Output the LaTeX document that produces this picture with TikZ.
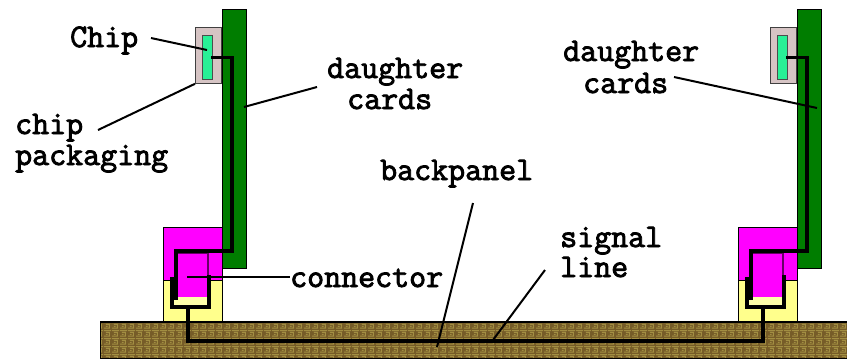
\documentclass[tikz,border=0pt]{standalone}
\usepackage{fontspec}
\newfontfamily\labfont[AutoFakeBold=2.6]{Latin Modern Mono}
\usetikzlibrary{patterns}

\definecolor{cardgreen}{RGB}{0,125,0}
\definecolor{chipgreen}{RGB}{40,240,150}
\definecolor{pkggray}{RGB}{214,196,196}
\definecolor{plugmag}{RGB}{255,0,255}
\definecolor{sockyel}{RGB}{255,255,140}
\definecolor{tipyel}{RGB}{255,255,170}
\definecolor{panelbrown}{RGB}{118,92,40}
\definecolor{panelolive}{RGB}{162,142,66}

% small meander texture for the backpanel board
\pgfdeclarepatternformonly{meander}{\pgfqpoint{0pt}{0pt}}{\pgfqpoint{8pt}{8pt}}{\pgfqpoint{8pt}{8pt}}{%
  \pgfsetlinewidth{1.1pt}%
  \pgfpathmoveto{\pgfqpoint{0pt}{1pt}}\pgfpathlineto{\pgfqpoint{6pt}{1pt}}%
  \pgfpathlineto{\pgfqpoint{6pt}{5pt}}\pgfpathlineto{\pgfqpoint{2pt}{5pt}}%
  \pgfpathmoveto{\pgfqpoint{0pt}{7pt}}\pgfpathlineto{\pgfqpoint{8pt}{7pt}}%
  \pgfpathmoveto{\pgfqpoint{2pt}{3pt}}\pgfpathlineto{\pgfqpoint{4pt}{3pt}}%
  \pgfusepath{stroke}}

\tikzset{
  box/.style={draw=black, line width=0.8pt, inner sep=0pt, anchor=north west},
  trace/.style={draw=black, line width=3.2pt, line cap=rect},
  leader/.style={draw=black, line width=2pt},
  lab/.style={font=\labfont\bfseries\fontsize{33}{33}\selectfont, inner sep=0pt, anchor=base west}
}

\begin{document}
\begin{tikzpicture}[x=1pt,y=-1pt]
\useasboundingbox (0,0) rectangle (847,360);
\fill[white] (0,0) rectangle (847,360);

% backpanel board
\node[box, fill=panelbrown, minimum width=747pt, minimum height=36pt] (panel) at (100,322) {};
\fill[pattern=meander, pattern color=panelolive] (101,323) rectangle (847,357.5);
\draw[black, line width=1.2pt] (100,322) -- (847,322);

% two daughter cards with chip, plug and socket
\foreach \p/\s in {163/L,738/R}{
  \node[box, fill=plugmag, minimum width=59pt, minimum height=53pt] (plug\s) at ({\p},227) {};
  \node[box, fill=sockyel, minimum width=59pt, minimum height=41pt] (sock\s) at ({\p},280) {};
  \node[box, fill=cardgreen, minimum width=24pt, minimum height=259pt] (card\s) at ({\p+59},9) {};
  \node[box, draw=black!75, fill=pkggray, minimum width=26pt, minimum height=56pt] (pkg\s) at ({\p+32},27) {};
  \node[box, draw=black!70, fill=chipgreen, minimum width=10pt, minimum height=44pt] (chip\s) at ({\p+39},35) {};
  \node[box, fill=plugmag, draw=black!60!plugmag, line width=1.5pt, minimum width=31pt, minimum height=45pt] (pin\s) at ({\p+13},252) {};
  \node[box, fill=tipyel, draw=none, minimum width=34pt, minimum height=8pt] (tip\s) at ({\p+11},297) {};
  % socket contact
  \coordinate (ul\s) at ({\p+9},279);
  \coordinate (ur\s) at ({\p+46},277);
  \coordinate (ub\s) at ({\p+25},307);
  \draw[trace] (ul\s) |- (ur\s |- ub\s) -- (ur\s);
  % chip to plug trace
  \draw[trace] (chip\s.east) -| ({\p+69},251) -| (pin\s.south west);
}

% signal line through the backpanel
\draw[trace] (ubL) -- ++(0,34) -| (ubR);

% labels
\node[lab] (tChip) at (70,47) {Chip};
\node[lab] (tPkg1) at (15,134) {chip};
\node[lab] (tPkg2) at (15,165) {packaging};
\node[lab] (tDcL1) at (327,78) {daughter};
\node[lab] (tDcL2) at (347,109) {cards};
\node[lab] (tDcR1) at (563,61) {daughter};
\node[lab] (tDcR2) at (583,93) {cards};
\node[lab] (tBack) at (380,180) {backpanel};
\node[lab] (tConn) at (290,287) {connector};
\node[lab] (tSig1) at (560,247) {signal};
\node[lab] (tSig2) at (560,277) {line};

% leader lines
\coordinate (aChip) at (151,38);
\coordinate (aPkg) at (98,130);
\coordinate (aDcL) at (317,87);
\coordinate (aDcR) at (674,77);
\coordinate (aBack) at (473,203);
\coordinate (bBack) at (437,347);
\coordinate (aConn) at (187,277);
\coordinate (aSig) at (545,270);
\coordinate (bSig) at (493,340);
\draw[leader] (aChip) -- (207,50);
\draw[leader] (aPkg) -- (pkgL.south west);
\draw[leader] (aDcL) -- (244,107);
\draw[leader] (aDcR) -- (817,108);
\draw[leader] (aBack) -- (bBack);
\draw[leader] (aConn) -- (tConn.west |- aConn) ++(-6,0);
\draw[leader] (aSig) -- (bSig);
\end{tikzpicture}
\end{document}
